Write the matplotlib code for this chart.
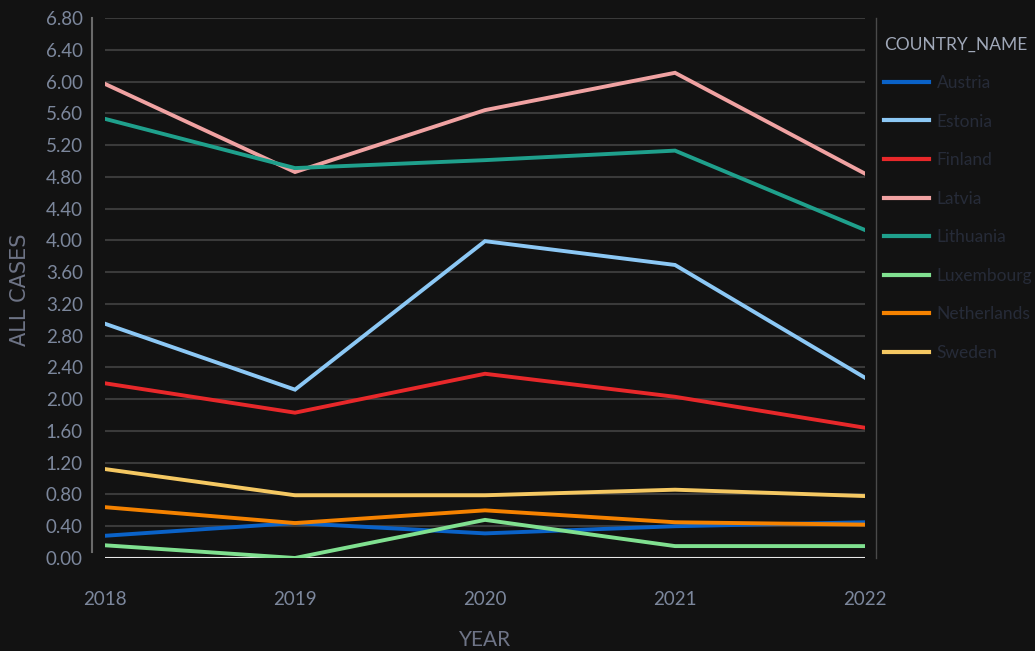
import matplotlib.pyplot as plt
from matplotlib.lines import Line2D

years = [2018, 2019, 2020, 2021, 2022]
countries = ["Austria", "Estonia", "Finland", "Latvia", "Lithuania",
             "Luxembourg", "Netherlands", "Sweden"]
values = {
    "Austria":     [0.28, 0.44, 0.31, 0.40, 0.45],
    "Estonia":     [2.95, 2.12, 3.99, 3.69, 2.27],
    "Finland":     [2.20, 1.83, 2.32, 2.03, 1.64],
    "Latvia":      [5.97, 4.86, 5.64, 6.11, 4.84],
    "Lithuania":   [5.53, 4.91, 5.01, 5.13, 4.13],
    "Luxembourg":  [0.16, 0.00, 0.48, 0.15, 0.15],
    "Netherlands": [0.64, 0.44, 0.60, 0.45, 0.42],
    "Sweden":      [1.12, 0.79, 0.79, 0.86, 0.78],
}
colors = {
    "Austria": "#0a62c8",
    "Estonia": "#8cc8f5",
    "Finland": "#e8282a",
    "Latvia": "#f0a2a2",
    "Lithuania": "#1fa08c",
    "Luxembourg": "#80e090",
    "Netherlands": "#f58200",
    "Sweden": "#f5c862",
}
yticks = [i * 0.4 for i in range(18)]

bg = "#121212"
tick_col = "#7c879c"
plt.rcParams['font.family'] = ["Lato", "DejaVu Sans"]

W, H = 1035, 651
fig = plt.figure(figsize=(W / 100, H / 100), dpi=100, facecolor=bg)
ax = fig.add_axes([105 / W, (H - 558) / H, 760 / W, 540 / H], facecolor=bg)

for y in yticks[1:]:
    ax.axhline(y, color="#3a3a3a", lw=1.5, zorder=1)
ax.axhline(0, color="#e8e8e8", lw=1.5, zorder=1)

for c in countries:
    ax.plot(years, values[c], color=colors[c], lw=2.8, zorder=3,
            solid_joinstyle="miter")

ax.set_xlim(2018, 2022)
ax.set_ylim(0, 6.8)
ax.set_xticks(years)
ax.set_xticklabels([str(y) for y in years])
ax.set_yticks(yticks)
ax.set_yticklabels([f"{y:.2f}" for y in yticks])
ax.tick_params(axis="both", length=0, colors=tick_col, labelsize=13.5)
ax.tick_params(axis="y", pad=16)
ax.tick_params(axis="x", pad=24)
for s in ax.spines.values():
    s.set_visible(False)

# left axis line and right divider
fig.add_artist(Line2D([92 / W, 92 / W], [(H - 552) / H, (H - 18) / H],
                      color="#6a6a6a", lw=1.5))
fig.add_artist(Line2D([876 / W, 876 / W], [(H - 558) / H, (H - 18) / H],
                      color="#4a4a4a", lw=1))

fig.text(20 / W, 1 - 290 / H, "ALL CASES", rotation=90, color="#6e7486",
         fontsize=15, ha="center", va="center", family=["DejaVu Sans"])
fig.text(485 / W, 1 - 640 / H, "YEAR", color="#6e7486", fontsize=15,
         ha="center", va="center")

handles = [Line2D([0], [0], color=colors[c], lw=3) for c in countries]
leg = fig.legend(handles, countries, loc="upper left",
                 bbox_to_anchor=(874 / W, 1 - 26 / H), frameon=False,
                 title="COUNTRY_NAME", fontsize=12.5, title_fontsize=12.5,
                 handlelength=2.55, handletextpad=0.45, labelspacing=1.3,
                 alignment="left", borderaxespad=0.2)
leg.get_title().set_color("#a0a8b8")
for t in leg.get_texts():
    t.set_color("#262b38")

fig.savefig("out.png", dpi=100, facecolor=bg)
